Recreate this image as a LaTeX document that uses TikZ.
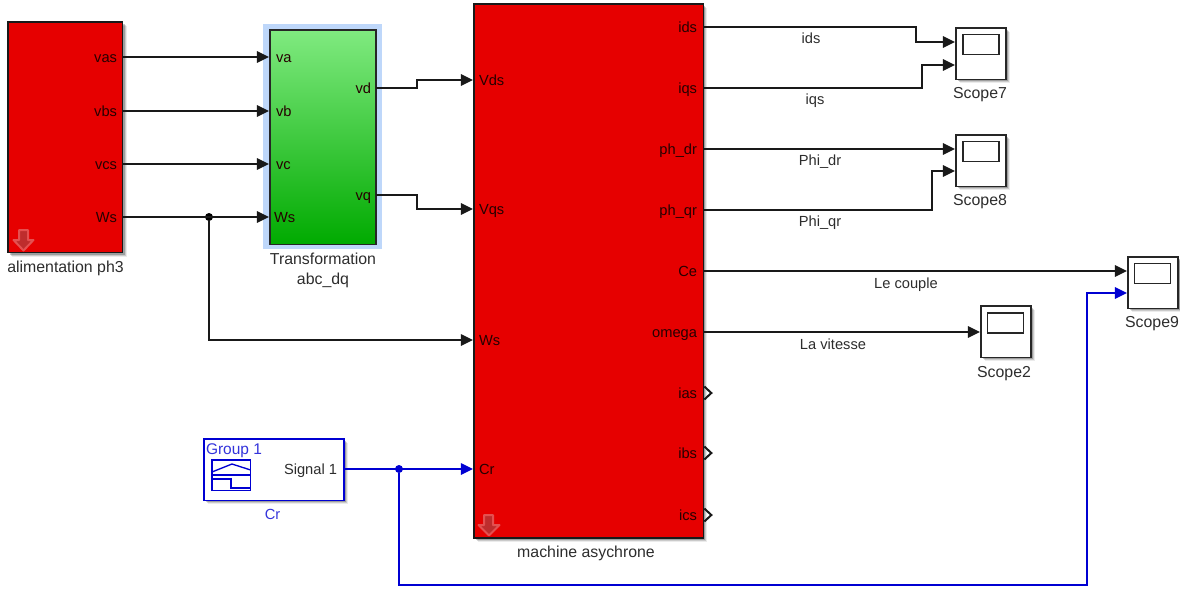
\documentclass[tikz,border=0pt]{standalone}
\usepackage{fontspec}
\setmainfont{Liberation Sans}
\usetikzlibrary{arrows.meta,shadows,calc}
\definecolor{blockred}{RGB}{230,0,0}
\definecolor{simblue}{RGB}{0,0,210}
\definecolor{halo}{RGB}{190,215,250}
\definecolor{txt}{RGB}{45,45,45}
\definecolor{gtop}{RGB}{128,234,128}
\definecolor{gbot}{RGB}{0,170,0}
\definecolor{arrfill}{RGB}{190,45,45}
\definecolor{arrline}{RGB}{228,80,80}
\tikzset{
  x=0.75pt,y=-0.75pt,
  base/.style={anchor=north west,inner sep=0pt,outer sep=0pt},
  softshadow/.style={
    drop shadow={shadow xshift=3pt,shadow yshift=-3pt,fill=black,opacity=.08},
    drop shadow={shadow xshift=2.2pt,shadow yshift=-2.2pt,fill=black,opacity=.14},
    drop shadow={shadow xshift=1.4pt,shadow yshift=-1.4pt,fill=black,opacity=.22}},
  redblock/.style={base,draw=black!90,line width=1.1pt,fill=blockred,softshadow},
  scopebox/.style={base,draw=black!85,line width=1.1pt,fill=white,softshadow,minimum width=37.5pt,minimum height=38.5pt},
  screen/.style={base,draw=black!85,line width=1pt,fill=white,minimum width=27pt,minimum height=15pt},
  lab/.style={inner sep=0pt,outer sep=0pt,font=\fontsize{11}{13}\selectfont,text=txt,text height=7.5pt,text depth=0pt},
  caption/.style={lab,font=\fontsize{11.9}{14}\selectfont},
  portr/.style={lab,anchor=east,text=black!85!red},
  portl/.style={lab,anchor=west,text=black!85!red},
  wire/.style={line width=1pt,black!90,-{Triangle[length=9pt,width=8.6pt]},shorten >=0.8pt},
  bwire/.style={line width=1pt,simblue,-{Triangle[length=9pt,width=8.6pt]},shorten >=0.8pt},
  chev/.style={line width=1.5pt,black!90},
  dot/.style={circle,fill=black,inner sep=0pt,minimum size=6pt},
  bdot/.style={circle,fill=simblue,inner sep=0pt,minimum size=6pt},
  downarrow/.style={fill=arrfill,draw=arrline,line width=1.5pt,line join=round},
}
\begin{document}
\begin{tikzpicture}
\useasboundingbox (0,0) rectangle (1180,590);
% blocks
\node[redblock,minimum width=86pt,minimum height=173pt] (alim) at (8,22) {};
\node[base,fill=halo,minimum width=89pt,minimum height=169pt] (halo) at (263,24) {};
\node[base,draw=black!85,line width=1pt,top color=gtop,bottom color=gbot,minimum width=79.5pt,minimum height=161pt] (tr) at (270,30) {};
\node[redblock,minimum width=172pt,minimum height=400.5pt] (mach) at (474,4) {};
\node[base,draw=simblue,line width=1.1pt,fill=white,softshadow,minimum width=105pt,minimum height=46pt] (cr) at (204,439) {};
\node[scopebox] (s7) at (956,28) {};
\node[screen] (s7i) at (963,34.5) {};
\node[scopebox] (s8) at (956,135) {};
\node[screen] (s8i) at (963,141.5) {};
\node[scopebox] (s9) at (1128,257) {};
\node[screen] (s9i) at (1134.5,263.5) {};
\node[scopebox] (s2) at (981,306) {};
\node[screen] (s2i) at (987.5,313) {};
% from-workspace icon
\node[base,draw=simblue,line width=1.1pt,minimum width=29pt,minimum height=23pt] (ico) at (212,460) {};
\draw[simblue,line width=1pt] (ico.west |- 0,475) -- (ico.east |- 0,475);
\draw[simblue,line width=1pt] (ico.west |- 0,472) -- (232,464) -- (ico.east |- 0,470);
\draw[simblue,line width=1pt] (ico.west |- 0,479) -- (231,479) -- (231,488) -- (ico.east |- 0,488);
% mask arrows
\draw[downarrow] (19,230) -- (28,230) -- (28,240) -- (33.5,240) -- (23.5,250.5) -- (13.5,240) -- (19,240) -- cycle;
\draw[downarrow] (484,515) -- (493,515) -- (493,525) -- (499.5,525) -- (489,535.5) -- (478.5,525) -- (484,525) -- cycle;
% ports: source
\node[portr] (vas) at (117,57) {vas};
\node[portr] (vbs) at (117,111) {vbs};
\node[portr] (vcs) at (117,164) {vcs};
\node[portr] (ws0) at (117,217) {Ws};
\node[portl] (va) at (276,57) {va};
\node[portl] (vb) at (276,111) {vb};
\node[portl] (vc) at (276,164) {vc};
\node[portl] (ws1) at (274,217) {Ws};
\node[portr] (vd) at (371,88) {vd};
\node[portr] (vq) at (371,195) {vq};
\node[portl] (vds) at (479,80) {Vds};
\node[portl] (vqs) at (479,209) {Vqs};
\node[portl] (ws2) at (479,340) {Ws};
\node[portl] (crp) at (479,469) {Cr};
\node[portr] (ids) at (697,27) {ids};
\node[portr] (iqs) at (697,88) {iqs};
\node[portr] (phd) at (697,149) {ph\_dr};
\node[portr] (phq) at (697,210) {ph\_qr};
\node[portr] (ce) at (697,271) {Ce};
\node[portr] (om) at (697,332) {omega};
\node[portr] (ias) at (697,393) {ias};
\node[portr] (ibs) at (697,453) {ibs};
\node[portr] (ics) at (697,515) {ics};
\node[lab,anchor=east] (sig) at (337,469) {Signal 1};
\node[lab,anchor=west,text=simblue!80!white,font=\fontsize{11.6}{14}\selectfont] (grp) at (206,449) {Group 1};
% block captions
\node[caption] (capa) at (65.5,267) {alimentation ph3};
\node[caption] (capt) at (323,259.5) {Transformation};
\node[caption] (capb) at (323,279) {abc\_dq};
\node[caption] (capm) at (586,552) {machine asychrone};
\node[lab,text=simblue!80!white] (capc) at (272.5,514) {Cr};
\node[caption] (c7) at (980,93) {Scope7};
\node[caption] (c8) at (980,200) {Scope8};
\node[caption] (c9) at (1152,322) {Scope9};
\node[caption] (c2) at (1004,372) {Scope2};
% signal labels
\node[lab] (l1) at (811,38) {ids};
\node[lab] (l2) at (815,99) {iqs};
\node[lab] (l3) at (820,160) {Phi\_dr};
\node[lab] (l4) at (820,221) {Phi\_qr};
\node[lab] (l5) at (906,283) {Le couple};
\node[lab] (l6) at (833,344) {La vitesse};
% junctions
\node[dot] (j1) at (209,217) {};
\node[bdot] (j2) at (399,469) {};
% target coordinates on scopes
\coordinate (s7a) at (956,42);
\coordinate (s7b) at (956,65);
\coordinate (s8a) at (956,149);
\coordinate (s8b) at (956,171);
\coordinate (s9a) at (1128,271);
\coordinate (s9b) at (1128,293);
\coordinate (s2a) at (981,332);
% wires
\draw[wire] (alim.east |- vas) -- (tr.west |- vas);
\draw[wire] (alim.east |- vbs) -- (tr.west |- vbs);
\draw[wire] (alim.east |- vcs) -- (tr.west |- vcs);
\draw[wire] (alim.east |- ws0) -- (tr.west |- ws0);
\draw[wire] (j1) |- (mach.west |- ws2);
\draw[wire] (tr.east |- vd) -| (417,84) |- (mach.west |- vds);
\draw[wire] (tr.east |- vq) -| (417,202) |- (mach.west |- vqs);
\draw[wire] (mach.east |- ids) -| (916,35) |- (s7a);
\draw[wire] (mach.east |- iqs) -| (922,76) |- (s7b);
\draw[wire] (mach.east |- phd) -- (s8a);
\draw[wire] (mach.east |- phq) -| (932,190) |- (s8b);
\draw[wire] (mach.east |- ce) -- (s9a);
\draw[wire] (mach.east |- om) -- (s2a);
\draw[bwire] (cr.east |- crp) -- (mach.west |- crp);
\draw[bwire] (j2) |- (1087,585) |- (s9b);
% unconnected outputs
\draw[chev] ($(mach.east |- ias)+(1,-6.5)$) -- ($(mach.east |- ias)+(8,0)$) -- ($(mach.east |- ias)+(1,6.5)$);
\draw[chev] ($(mach.east |- ibs)+(1,-6.5)$) -- ($(mach.east |- ibs)+(8,0)$) -- ($(mach.east |- ibs)+(1,6.5)$);
\draw[chev] ($(mach.east |- ics)+(1,-6.5)$) -- ($(mach.east |- ics)+(8,0)$) -- ($(mach.east |- ics)+(1,6.5)$);
\end{tikzpicture}
\end{document}
